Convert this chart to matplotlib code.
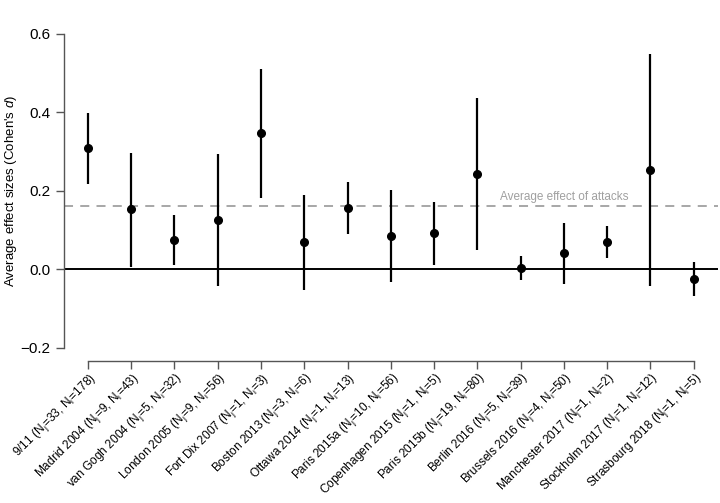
import matplotlib
matplotlib.use("Agg")
from matplotlib import pyplot as plt
import numpy as np

plt.rcParams['font.family'] = ['Liberation Sans', 'DejaVu Sans']
plt.rcParams['mathtext.fontset'] = 'custom'
plt.rcParams['mathtext.rm'] = 'Liberation Sans'
plt.rcParams['mathtext.it'] = 'Liberation Sans:italic'

attacks = ['9/11', 'Madrid 2004', 'van Gogh 2004', 'London 2005', 'Fort Dix 2007',
           'Boston 2013', 'Ottawa 2014', 'Paris 2015a', 'Copenhagen 2015', 'Paris 2015b',
           'Berlin 2016', 'Brussels 2016', 'Manchester 2017', 'Stockholm 2017', 'Strasbourg 2018']
n_j = [33, 9, 5, 9, 1, 3, 1, 10, 1, 19, 5, 4, 1, 1, 1]
n_i = [178, 43, 32, 56, 3, 6, 13, 56, 5, 80, 39, 50, 2, 12, 5]
effect = [0.308, 0.153, 0.075, 0.126, 0.346, 0.070, 0.156, 0.085, 0.092, 0.243,
          0.004, 0.041, 0.070, 0.253, -0.024]
ci_low = [0.218, 0.007, 0.011, -0.042, 0.182, -0.052, 0.090, -0.031, 0.012, 0.049,
          -0.027, -0.036, 0.030, -0.043, -0.068]
ci_high = [0.398, 0.296, 0.138, 0.294, 0.510, 0.190, 0.222, 0.202, 0.171, 0.437,
           0.035, 0.117, 0.110, 0.549, 0.018]
avg_effect = 0.161

labels = ['%s ($\\mathrm{N_j}$=%d, $\\mathrm{N_i}$=%d)' % (a, j, i)
          for a, j, i in zip(attacks, n_j, n_i)]
x = np.arange(len(attacks))

fig = plt.figure(figsize=(7.2, 5.03), dpi=100)
ax = fig.add_axes([0.0885, 0.2833, 0.9085, 0.6747])

ax.axhline(0, color='black', lw=1.4, zorder=1)
ax.axhline(avg_effect, color='#a0a0a0', lw=1.3, ls=(0, (5, 4)), zorder=1)
ax.text(11.0, avg_effect + 0.009, 'Average effect of attacks', color='#a0a0a0',
        fontsize=8.5, ha='center', va='bottom')

ax.vlines(x, ci_low, ci_high, color='black', lw=1.6, zorder=2)
ax.plot(x, effect, 'o', color='black', ms=5.5, zorder=3)

ax.set_xlim(-0.56, len(attacks) - 1 + 0.56)
ax.set_ylim(-0.232, 0.632)
ax.set_yticks([-0.2, 0.0, 0.2, 0.4, 0.6])
ax.set_yticklabels(['\u22120.2', '0.0', '0.2', '0.4', '0.6'], fontsize=11)
ax.set_xticks(x)
ax.set_xticklabels(labels, rotation=45, ha='right', va='top', fontsize=8.6,
                   rotation_mode='anchor')
ax.set_ylabel("Average effect sizes (Cohen's $d$)", fontsize=9.5)
ax.yaxis.set_label_coords(-0.068, 0.5)

for side in ['top', 'right']:
    ax.spines[side].set_visible(False)
ax.spines['left'].set_bounds(-0.2, 0.6)
ax.spines['bottom'].set_bounds(0, len(attacks) - 1)
for side in ['left', 'bottom']:
    ax.spines[side].set_color('#555555')
    ax.spines[side].set_linewidth(1.0)
ax.tick_params(axis='both', length=6, color='#555555', width=1.0)
ax.tick_params(axis='x', pad=1)

fig.savefig('out.png', dpi=100)
